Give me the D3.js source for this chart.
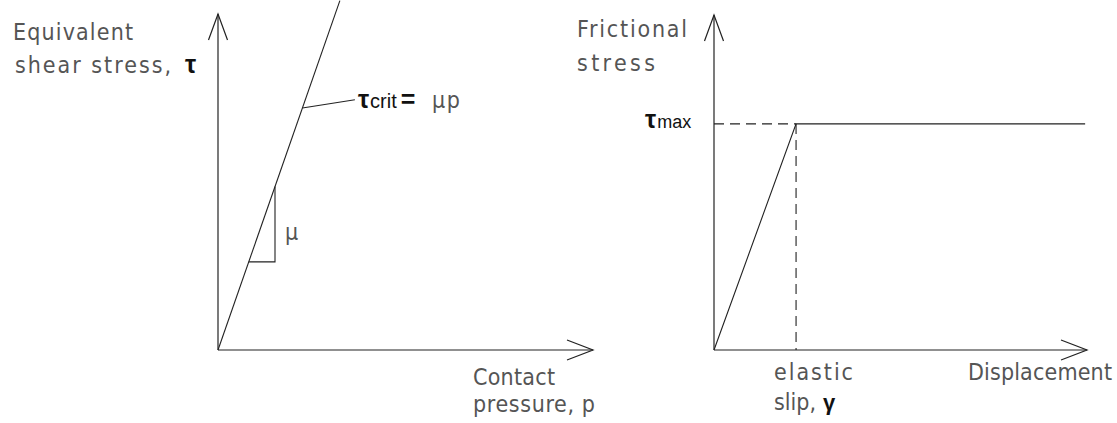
<!DOCTYPE html>
<html><head><meta charset="utf-8">
<script src="https://cdn.jsdelivr.net/npm/d3@7"></script>
<style>
html,body{margin:0;padding:0;background:#fff;}
svg{display:block;}
.lbl{font-family:"DejaVu Sans Condensed","DejaVu Sans";font-stretch:condensed;fill:#555;font-size:23px;}
.sym{font-family:"Liberation Sans",Arial,sans-serif;fill:#111;}
</style></head><body>
<svg id="c" width="1117" height="423"></svg>
<script>
// ---- data (arbitrary units) ----
const leftXDomain = [0, 100];
const leftYDomain = [0, 100];
const mu = 3.2;                              // slope of tau_crit = mu p
const critLineX = [0, 32.5];                 // p values of the tau_crit line
const slopeTriangleX = [8.2, 15.2];          // slope triangle p values
const leaderFromX = 22.5;                    // leader start on line
const leaderTo = [36.5, 74.5];               // leader end (p, tau)

const rightXDomain = [0, 100];
const rightYDomain = [0, 100];
const tauMax = 67.5;
const elasticSlip = 22;
const frictionX = [0, elasticSlip, 99.5];
const frictionY = [0, tauMax, tauMax];

// ---- layout ----
const svg = d3.select("#c");
const xL = d3.scaleLinear().domain(leftXDomain).range([218, 593]);
const yL = d3.scaleLinear().domain(leftYDomain).range([350, 14]);
const xR = d3.scaleLinear().domain(rightXDomain).range([714, 1087]);
const yR = d3.scaleLinear().domain(rightYDomain).range([350, 15]);

const stroke = "#222";
const line = d3.line();

function axes(x, y) {
  const g = svg.append("g").attr("fill", "none").attr("stroke", stroke).attr("stroke-width", 1.2);
  const ox = x(0), oy = y(0), tx = x(x.domain()[1]), ty = y(y.domain()[1]);
  g.append("path").attr("d", line([[ox, oy], [ox, ty]]));
  g.append("path").attr("d", line([[ox - 9.5, ty + 26], [ox, ty], [ox + 9.5, ty + 26]]));
  g.append("path").attr("d", line([[ox, oy], [tx, oy]]));
  g.append("path").attr("d", line([[tx - 26, oy - 10], [tx, oy], [tx - 26, oy + 10]]));
}
axes(xL, yL);
axes(xR, yR);

// left: tau_crit line
const gl = svg.append("g").attr("fill", "none").attr("stroke", stroke).attr("stroke-width", 1.1);
gl.append("path").attr("d", line(critLineX.map(p => [xL(p), yL(mu * p)])));
gl.append("path").attr("d", line([
  [xL(slopeTriangleX[0]), yL(mu * slopeTriangleX[0])],
  [xL(slopeTriangleX[1]), yL(mu * slopeTriangleX[0])],
  [xL(slopeTriangleX[1]), yL(mu * slopeTriangleX[1])]
]));
gl.append("path").attr("d", line([
  [xL(leaderFromX), yL(mu * leaderFromX)],
  [xL(leaderTo[0]), yL(leaderTo[1])]
]));

// right: friction law
const gr = svg.append("g").attr("fill", "none").attr("stroke", stroke).attr("stroke-width", 1.1);
const pts = frictionX.map((d, i) => [xR(d), yR(frictionY[i])]);
gr.append("path").attr("d", line(pts));
gr.append("path").attr("stroke-dasharray", "10,6")
  .attr("d", line([[xR(0), yR(tauMax)], [xR(elasticSlip), yR(tauMax)]]));
gr.append("path").attr("stroke-dasharray", "10,6")
  .attr("d", line([[xR(elasticSlip), yR(tauMax)], [xR(elasticSlip), yR(0)]]));

// ---- text ----
function lbl(x, y, s, w) {
  const t = svg.append("text").attr("class", "lbl").attr("x", x).attr("y", y).text(s);
  if (w) t.attr("textLength", w).attr("lengthAdjust", "spacing");
  return t;
}
lbl(13, 40, "Equivalent", 120);
lbl(15, 73, "shear stress,", 156);
svg.append("text").attr("class", "sym").attr("x", 185).attr("y", 73)
  .attr("font-size", 25).attr("font-weight", "bold").text("τ");

lbl(473, 385, "Contact", 82);
lbl(473, 412, "pressure, p", 122);

lbl(xL(slopeTriangleX[1]) + 10, 240, "μ");

const tc = svg.append("text").attr("class", "sym").attr("x", xL(leaderTo[0]) + 3).attr("y", yL(leaderTo[1]) + 8);
tc.append("tspan").attr("font-size", 25).attr("font-weight", "bold").text("τ");
tc.append("tspan").attr("font-size", 20).attr("dx", 1).text("crit");
tc.append("tspan").attr("font-size", 25).attr("font-weight", "bold").attr("dx", 4).text("=");
lbl(432, yL(leaderTo[1]) + 8, "μp", 28);

lbl(577, 37, "Frictional", 110);
lbl(577, 71, "stress", 78);

const tm = svg.append("text").attr("class", "sym").attr("x", 645).attr("y", 128);
tm.append("tspan").attr("font-size", 25).attr("font-weight", "bold").text("τ");
tm.append("tspan").attr("font-size", 18).attr("dx", 1).text("max");

lbl(774, 380, "elastic", 79);
lbl(774, 410, "slip,");
svg.append("text").attr("class", "sym").attr("x", 823).attr("y", 410)
  .attr("font-size", 22).attr("font-weight", "bold").text("γ");
lbl(968, 380, "Displacement", 144);
</script></body></html>
